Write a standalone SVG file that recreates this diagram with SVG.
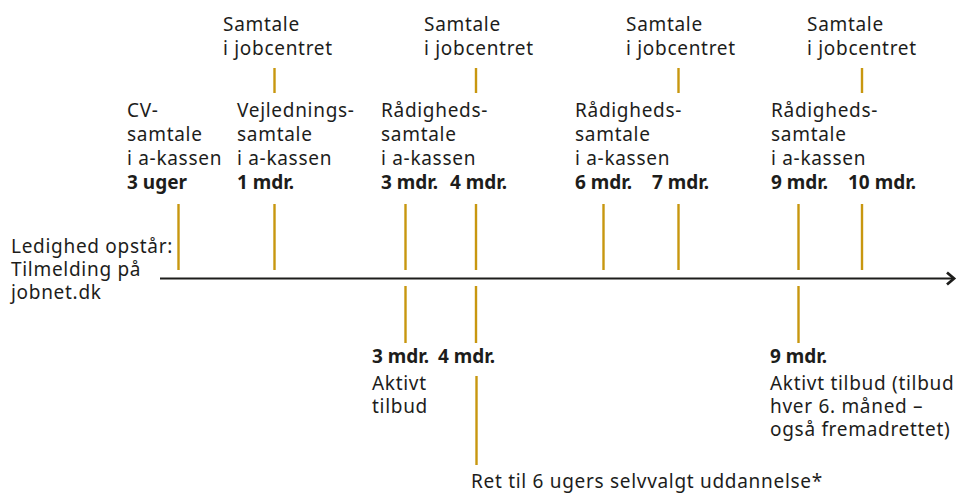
<svg xmlns="http://www.w3.org/2000/svg" width="961" height="497" viewBox="0 0 961 497">
  <style>
    text { font-family: "Noto Sans", "Open Sans", "DejaVu Sans", sans-serif; font-size: 19px; fill: #1d1d1b; letter-spacing: 0.7px; }
    .b { font-weight: bold; letter-spacing: 0; }
    .tick { stroke: #c8970f; stroke-width: 2.4; fill: none; }
    .axis { stroke: #1d1d1b; stroke-width: 1.8; fill: none; }
  </style>
  <rect width="961" height="497" fill="#ffffff"/>

  <!-- timeline axis and event ticks -->
  <g id="connectors">
    <line class="axis" x1="160" y1="278.5" x2="954" y2="278.5"/>
    <polyline points="947,272.5 954,278.5 947,284.5" fill="none" stroke="#1d1d1b" stroke-width="2.8"/>
    <!-- jobcentre ticks -->
    <line class="tick" x1="274.5" y1="68" x2="274.5" y2="93"/>
    <line class="tick" x1="476" y1="68" x2="476" y2="93"/>
    <line class="tick" x1="678.5" y1="68" x2="678.5" y2="93"/>
    <line class="tick" x1="862" y1="68" x2="862" y2="93"/>
    <!-- ticks above axis -->
    <line class="tick" x1="178.5" y1="204" x2="178.5" y2="270"/>
    <line class="tick" x1="274.5" y1="204" x2="274.5" y2="270"/>
    <line class="tick" x1="405.5" y1="204" x2="405.5" y2="270"/>
    <line class="tick" x1="476" y1="204" x2="476" y2="270"/>
    <line class="tick" x1="603.5" y1="204" x2="603.5" y2="270"/>
    <line class="tick" x1="678.5" y1="204" x2="678.5" y2="270"/>
    <line class="tick" x1="798.5" y1="204" x2="798.5" y2="270"/>
    <line class="tick" x1="862" y1="204" x2="862" y2="270"/>
    <!-- ticks below axis -->
    <line class="tick" x1="405.5" y1="286" x2="405.5" y2="343"/>
    <line class="tick" x1="476" y1="286" x2="476" y2="343"/>
    <line class="tick" x1="798.5" y1="286" x2="798.5" y2="343"/>
    <line class="tick" x1="476.5" y1="376" x2="476.5" y2="465"/>
  </g>

  <g id="start">
    <text x="11" y="253">Ledighed opstår:</text>
    <text x="11" y="276">Tilmelding på</text>
    <text x="11" y="299">jobnet.dk</text>
  </g>

  <g id="jobcenter-1">
    <text x="223" y="31">Samtale</text>
    <text x="223" y="55">i jobcentret</text>
  </g>
  <g id="jobcenter-4">
    <text x="424" y="31">Samtale</text>
    <text x="424" y="55">i jobcentret</text>
  </g>
  <g id="jobcenter-7">
    <text x="626" y="31">Samtale</text>
    <text x="626" y="55">i jobcentret</text>
  </g>
  <g id="jobcenter-10">
    <text x="807" y="31">Samtale</text>
    <text x="807" y="55">i jobcentret</text>
  </g>

  <g id="cv-samtale">
    <text x="127" y="117">CV-</text>
    <text x="127" y="141">samtale</text>
    <text x="127" y="165">i a-kassen</text>
    <text class="b" x="127" y="189">3 uger</text>
  </g>
  <g id="vejledning">
    <text x="237" y="117">Vejlednings-</text>
    <text x="237" y="141">samtale</text>
    <text x="237" y="165">i a-kassen</text>
    <text class="b" x="237" y="189">1 mdr.</text>
  </g>
  <g id="raadighed-3">
    <text x="381" y="117">Rådigheds-</text>
    <text x="381" y="141">samtale</text>
    <text x="381" y="165">i a-kassen</text>
    <text class="b" x="381" y="189">3 mdr.</text>
  </g>
  <g id="month-4">
    <text class="b" x="450" y="189">4 mdr.</text>
  </g>
  <g id="raadighed-6">
    <text x="575" y="117">Rådigheds-</text>
    <text x="575" y="141">samtale</text>
    <text x="575" y="165">i a-kassen</text>
    <text class="b" x="575" y="189">6 mdr.</text>
  </g>
  <g id="month-7">
    <text class="b" x="652" y="189">7 mdr.</text>
  </g>
  <g id="raadighed-9">
    <text x="771" y="117">Rådigheds-</text>
    <text x="771" y="141">samtale</text>
    <text x="771" y="165">i a-kassen</text>
    <text class="b" x="771" y="189">9 mdr.</text>
  </g>
  <g id="month-10">
    <text class="b" x="848" y="189">10 mdr.</text>
  </g>

  <g id="tilbud-3">
    <text class="b" x="372" y="363">3 mdr.</text>
    <text x="372" y="390">Aktivt</text>
    <text x="372" y="413">tilbud</text>
  </g>
  <g id="tilbud-4">
    <text class="b" x="438" y="363">4 mdr.</text>
  </g>
  <g id="uddannelse">
    <text x="471" y="488">Ret til 6 ugers selvvalgt uddannelse*</text>
  </g>
  <g id="tilbud-9">
    <text class="b" x="770" y="363">9 mdr.</text>
    <text x="770" y="390">Aktivt tilbud (tilbud</text>
    <text x="770" y="413">hver 6. måned –</text>
    <text x="770" y="436">også fremadrettet)</text>
  </g>
</svg>
